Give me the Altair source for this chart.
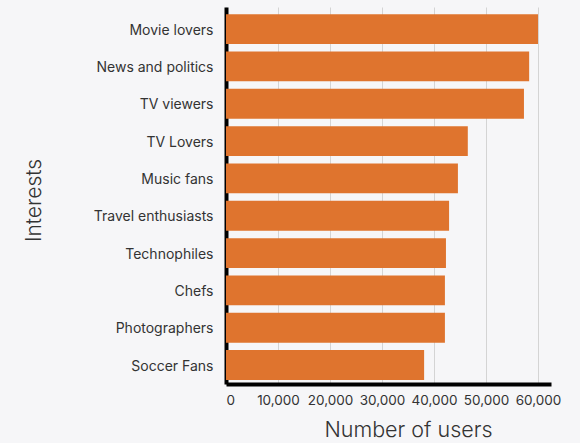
import altair as alt
import pandas as pd

categories = ["Movie lovers", "News and politics", "TV viewers", "TV Lovers",
              "Music fans", "Travel enthusiasts", "Technophiles", "Chefs",
              "Photographers", "Soccer Fans"]
users = [60000, 58300, 57300, 46500, 44600, 42900, 42300, 42100, 42100, 38100]
x_ticks = [0, 10000, 20000, 30000, 40000, 50000, 60000]

df = pd.DataFrame({"Interests": categories, "Users": users})

FONT = "Inter"
TXT = "#333333"

chart = alt.Chart(df).mark_bar(color="#DF742E").encode(
    x=alt.X("Users:Q",
            scale=alt.Scale(domain=[0, 62500], nice=False),
            axis=alt.Axis(title="Number of users", values=x_ticks, format=",d",
                          grid=True, gridColor="#d4d4d4", gridWidth=1,
                          domainColor="black", domainWidth=4,
                          ticks=False, tickSize=0, labelPadding=9,
                          labelFont=FONT, labelFontSize=13.5, labelColor=TXT,
                          titleFont=FONT, titleFontSize=21.5, titleFontWeight=300,
                          titleColor=TXT, titleX=182, titleY=52,
                          titleBaseline="alphabetic", titleAlign="center")),
    y=alt.Y("Interests:N", sort=categories,
            scale=alt.Scale(paddingInner=0.2, paddingOuter=0.15, align=0.64),
            axis=alt.Axis(title="Interests", grid=False,
                          domainColor="black", domainWidth=4,
                          ticks=False, tickSize=0, labelPadding=13, labelOffset=1.5,
                          labelFont=FONT, labelFontSize=14, labelColor=TXT,
                          titleFont=FONT, titleFontSize=21, titleFontWeight=300,
                          titleColor=TXT, titleAngle=270, titleX=-186, titleY=193,
                          titleBaseline="alphabetic", titleAlign="center")),
).properties(
    width=325, height=377,
    autosize=alt.AutoSizeParams(type="none"),
    padding={"left": 226, "top": 7, "right": 29, "bottom": 59},
    background="#f6f6f8",
).configure_view(stroke=None)

chart.save("out.html", embed_options={"renderer": "svg", "actions": False})
